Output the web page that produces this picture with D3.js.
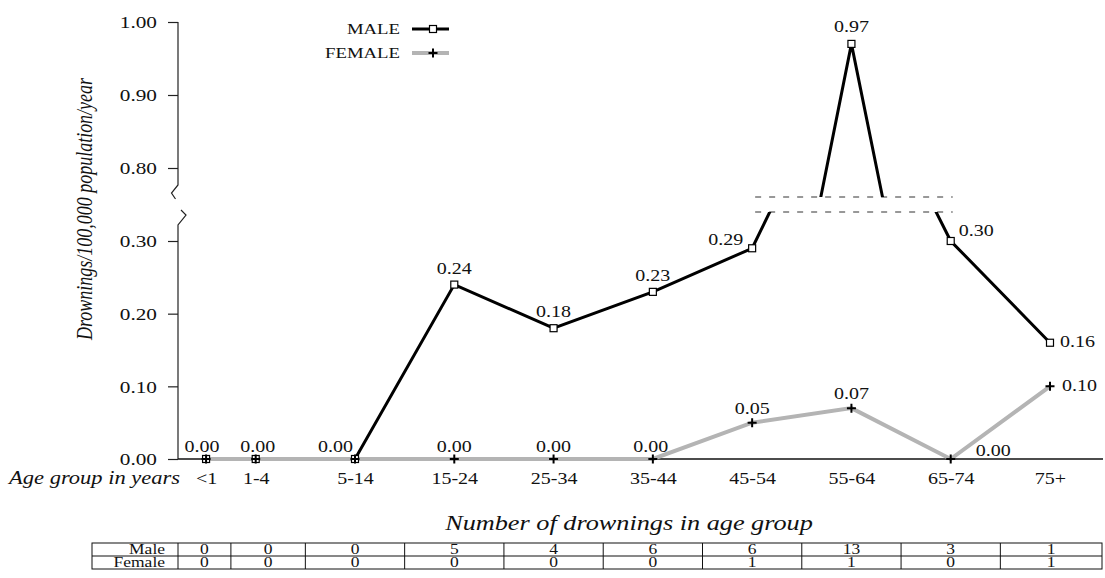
<!DOCTYPE html>
<html>
<head>
<meta charset="utf-8">
<script src="https://cdn.jsdelivr.net/npm/d3@7"></script>
<style>
  body { margin: 0; background: #fff; }
  svg { display: block; }
</style>
</head>
<body>
<svg id="chart" width="1105" height="578"></svg>
<script>
// ---- data ----
const ageGroups   = ["<1", "1-4", "5-14", "15-24", "25-34", "35-44", "45-54", "55-64", "65-74", "75+"];
const maleRate    = [0, 0, 0, 0.24, 0.18, 0.23, 0.29, 0.97, 0.30, 0.16];
const femaleRate  = [0, 0, 0, 0, 0, 0, 0.05, 0.07, 0, 0.10];
const maleCount   = [0, 0, 0, 5, 4, 6, 6, 13, 3, 1];
const femaleCount = [0, 0, 0, 0, 0, 0, 1, 1, 0, 1];
const yTickValues = [0, 0.1, 0.2, 0.3, 0.8, 0.9, 1.0];

// ---- layout ----
const W = 1105, H = 578;
const SX = 1.25;                       // horizontal stretch applied to all lettering
const FONT = "'Liberation Serif', 'Times New Roman', serif";
const axisX = 178, baseY = 459, topY = 22, rightX = 1103;

const svg = d3.select("#chart");

// the two youngest bands sit at half spacing, the rest one unit apart
const slot = i => (i < 2 ? 0.5 * (i + 1) : i);
const xLin = d3.scaleLinear().domain([2, 9]).range([355, 1050]);
const x = d3.scaleOrdinal().domain(ageGroups).range(ageGroups.map((g, i) => xLin(slot(i))));

// broken value axis: 0–0.30 below the break, 0.80–1.00 above it
const y = d3.scaleLinear().domain([0, 0.3, 0.8, 1.0]).range([baseY, 241, 168, topY]);
const yUpper = d3.scaleLinear().domain([0.8, 1.0]).range([168, topY]);
const breakMid = (y(0.3) + y(0.8)) / 2;
const breakTop = breakMid - 7.5, breakBot = breakMid + 7.5;

function txt(sel, px, py, str, o = {}) {
  return sel.append("text")
    .attr("transform", `translate(${px},${py}) scale(${SX},1)` + (o.rotate ? ` rotate(${o.rotate})` : ""))
    .attr("text-anchor", o.anchor || "middle")
    .style("font-family", FONT)
    .style("font-size", (o.size || 16) + "px")
    .style("font-style", o.italic ? "italic" : "normal")
    .attr("fill", "#111")
    .text(str);
}

// ---- y axis ----
const yAxis = d3.axisLeft(y).tickValues(yTickValues).tickFormat(d3.format(".2f")).tickSize(10).tickPadding(0);
const gy = svg.append("g").attr("transform", `translate(${axisX},0)`).call(yAxis);
gy.select(".domain").remove();
gy.selectAll(".tick line").attr("stroke", "#222").attr("stroke-width", 1.2);
gy.selectAll(".tick text")
  .attr("x", -21 / SX).attr("dy", "0.35em")
  .attr("transform", `scale(${SX},1)`)
  .attr("fill", "#111")
  .style("font-family", FONT).style("font-size", "17px");

// axis line with zig-zag break marks
const axisPath = d3.path();
axisPath.moveTo(axisX, topY);
axisPath.lineTo(axisX, breakMid - 19.5);
axisPath.lineTo(axisX - 6.5, breakMid - 11.5);
axisPath.lineTo(axisX - 2.5, breakMid - 5.5);
axisPath.moveTo(axisX + 3, breakMid + 5.5);
axisPath.lineTo(axisX + 8, breakMid + 10.5);
axisPath.lineTo(axisX, breakMid + 20.5);
axisPath.lineTo(axisX, baseY);
svg.append("path").attr("d", axisPath.toString())
  .attr("fill", "none").attr("stroke", "#222").attr("stroke-width", 1.2);

// ---- x axis ----
svg.append("line").attr("x1", axisX).attr("x2", rightX).attr("y1", baseY).attr("y2", baseY)
  .attr("stroke", "#111").attr("stroke-width", 1.3);
const xAxis = d3.axisBottom(x).tickSize(0).tickPadding(0);
const gx = svg.append("g").attr("transform", `translate(0,${baseY})`).call(xAxis);
gx.select(".domain").remove();
gx.selectAll(".tick text")
  .attr("y", 25).attr("dy", 0)
  .attr("transform", `scale(${SX},1)`)
  .attr("fill", "#111")
  .style("font-family", FONT).style("font-size", "16px");

txt(svg, 180, 484, "Age group in years", { anchor: "end", italic: true, size: 18 });
txt(svg, 92, 209, "Drownings/100,000 population/year", { rotate: -90, italic: true, size: 18 });

// ---- clip regions either side of the break ----
const defs = svg.append("defs");
defs.append("clipPath").attr("id", "below-break")
  .append("rect").attr("x", 0).attr("y", breakBot).attr("width", W).attr("height", H - breakBot);
defs.append("clipPath").attr("id", "above-break")
  .append("rect").attr("x", 0).attr("y", 0).attr("width", W).attr("height", breakTop);

// dashed break guides
[breakTop, breakBot].forEach(by => {
  svg.append("line")
    .attr("x1", x(ageGroups[6]) + 3).attr("x2", x(ageGroups[8]) + 2)
    .attr("y1", by).attr("y2", by)
    .attr("stroke", "#333").attr("stroke-width", 1.1).attr("stroke-dasharray", "6,8");
});

// ---- series lines ----
const lineLow = d3.line().x((d, i) => x(ageGroups[i])).y(d => y(d));
const lineHigh = d3.line().x((d, i) => x(ageGroups[i])).y(d => yUpper(d));

svg.append("path").attr("d", lineLow(maleRate)).attr("clip-path", "url(#below-break)")
  .attr("fill", "none").attr("stroke", "#000").attr("stroke-width", 3).attr("stroke-linejoin", "miter");
svg.append("path").attr("d", lineHigh(maleRate)).attr("clip-path", "url(#above-break)")
  .attr("fill", "none").attr("stroke", "#000").attr("stroke-width", 3).attr("stroke-linejoin", "miter");

svg.append("path").attr("d", lineLow(femaleRate))
  .attr("fill", "none").attr("stroke", "#b4b4b4").attr("stroke-width", 4);

// ---- markers ----
const mSq = 7, mPlus = 4.5;
svg.append("g").selectAll("rect").data(maleRate).join("rect")
  .attr("x", (d, i) => x(ageGroups[i]) - mSq / 2)
  .attr("y", d => y(d) - mSq / 2)
  .attr("width", mSq).attr("height", mSq)
  .attr("fill", "#fff").attr("stroke", "#000").attr("stroke-width", 1.2);

svg.append("g").selectAll("path").data(femaleRate).join("path")
  .attr("d", (d, i) => {
    const cx = x(ageGroups[i]), cy = y(d);
    return `M${cx - mPlus},${cy}H${cx + mPlus}M${cx},${cy - mPlus}V${cy + mPlus}`;
  })
  .attr("stroke", "#000").attr("stroke-width", 2);

// ---- value labels ----
const fmt = d3.format(".2f");
const malePlace = [
  ["middle", -4, -7], ["middle", 2, -7], ["end", -2, -7], ["middle", 0, -11], ["middle", 0, -11],
  ["middle", 0, -11], ["end", -9, -3], ["middle", 0, -12], ["start", 8, -5], ["start", 10, 4]
];
const femalePlace = [
  null, null, null, ["middle", 0, -7], ["middle", 0, -7],
  ["middle", -2, -7], ["middle", 0, -9], ["middle", 0, -9], ["start", 25, -3], ["start", 12, 5]
];
maleRate.forEach((v, i) => {
  const p = malePlace[i];
  txt(svg, x(ageGroups[i]) + p[1], y(v) + p[2], fmt(v), { anchor: p[0], size: 16 });
});
femaleRate.forEach((v, i) => {
  const p = femalePlace[i];
  if (!p) return;
  txt(svg, x(ageGroups[i]) + p[1], y(v) + p[2], fmt(v), { anchor: p[0], size: 16 });
});

// ---- legend ----
const legend = [
  { name: "MALE", color: "#000", width: 3, mark: "square", ly: 29 },
  { name: "FEMALE", color: "#b4b4b4", width: 4, mark: "plus", ly: 53 }
];
legend.forEach(l => {
  txt(svg, 400, l.ly + 5, l.name, { anchor: "end", size: 15 });
  svg.append("line").attr("x1", 412).attr("x2", 449).attr("y1", l.ly).attr("y2", l.ly)
    .attr("stroke", l.color).attr("stroke-width", l.width);
  if (l.mark === "square") {
    svg.append("rect").attr("x", 433 - mSq / 2).attr("y", l.ly - mSq / 2)
      .attr("width", mSq).attr("height", mSq)
      .attr("fill", "#fff").attr("stroke", "#000").attr("stroke-width", 1.2);
  } else {
    svg.append("path")
      .attr("d", `M${433 - mPlus},${l.ly}H${433 + mPlus}M433,${l.ly - mPlus}V${l.ly + mPlus}`)
      .attr("stroke", "#000").attr("stroke-width", 2);
  }
});

// ---- counts table ----
txt(svg, 629, 530, "Number of drownings in age group", { italic: true, size: 21 });

const tLeft = 92, tRight = 1102, tTop = 543, rowH = 13;
const centers = ageGroups.map(g => x(g));
const bounds = [axisX];
for (let i = 0; i < centers.length - 1; i++) bounds.push((centers[i] + centers[i + 1]) / 2);
bounds.push(tRight);

const tbl = svg.append("g").attr("stroke", "#111").attr("stroke-width", 1);
tbl.append("rect").attr("x", tLeft).attr("y", tTop).attr("width", tRight - tLeft).attr("height", rowH * 2)
  .attr("fill", "none");
tbl.append("line").attr("x1", tLeft).attr("x2", tRight).attr("y1", tTop + rowH).attr("y2", tTop + rowH);
bounds.slice(0, -1).forEach(bx => {
  tbl.append("line").attr("x1", bx).attr("x2", bx).attr("y1", tTop).attr("y2", tTop + rowH * 2);
});

const rows = [["Male", maleCount], ["Female", femaleCount]];
rows.forEach(([name, counts], r) => {
  const by = tTop + rowH * (r + 1) - 2;
  txt(svg, 165, by, name, { anchor: "end", size: 14 });
  counts.forEach((c, i) => {
    txt(svg, (bounds[i] + bounds[i + 1]) / 2, by, String(c), { size: 14 });
  });
});
</script>
</body>
</html>
